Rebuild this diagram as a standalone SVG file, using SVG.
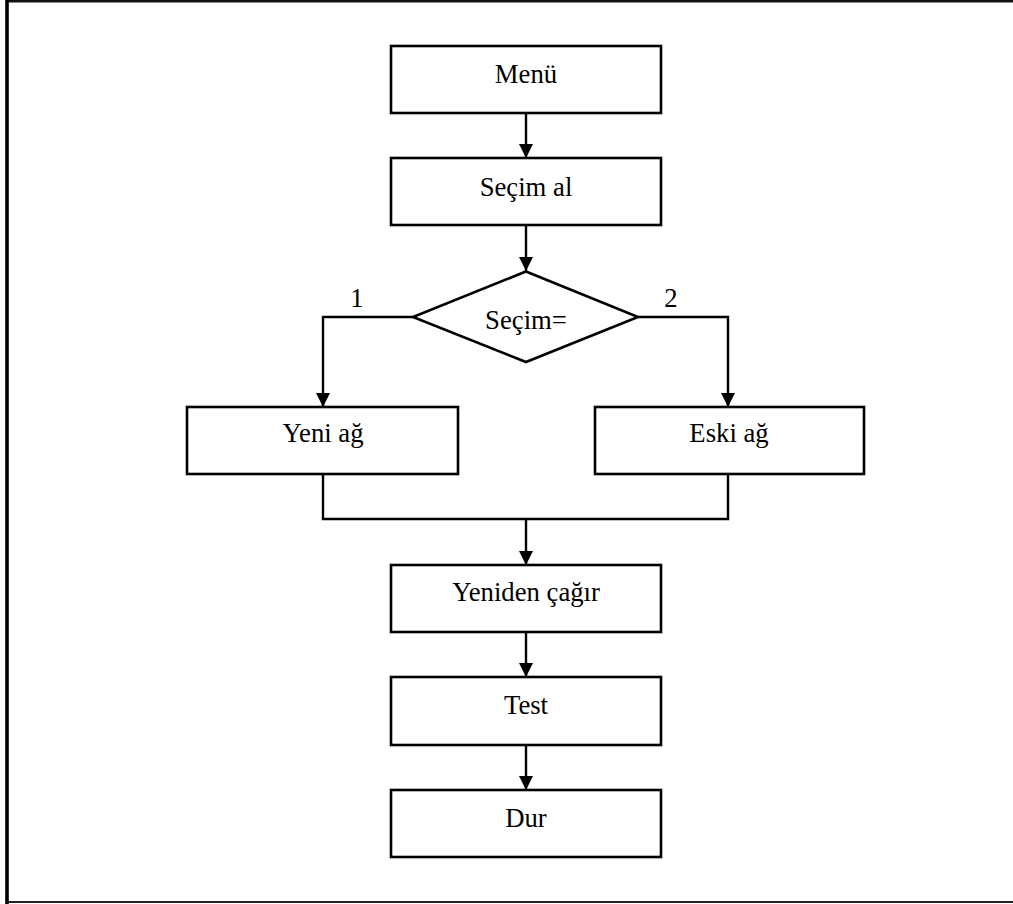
<svg xmlns="http://www.w3.org/2000/svg" width="1013" height="904" viewBox="0 0 1013 904">
  <style>
    .box { fill: #ffffff; stroke: #000000; stroke-width: 2.6; }
    .lbl { font-family: "Liberation Serif", "Times New Roman", serif; font-size: 26.7px; fill: #000000; text-anchor: middle; }
    .wire { fill: none; stroke: #000000; stroke-width: 2.4; }
  </style>
  <defs>
    <marker id="arrow" viewBox="0 0 14 14" refX="14" refY="7" markerWidth="14" markerHeight="14" markerUnits="userSpaceOnUse" orient="auto">
      <path d="M0,0 L14,7 L0,14 Z" fill="#000000"/>
    </marker>
  </defs>
  <rect width="1013" height="904" fill="#ffffff"/>

  <!-- page frame (open on the right) -->
  <g id="frame">
    <path d="M1013,1.2 H7" fill="none" stroke="#111111" stroke-width="2.4"/>
    <path d="M7,0 V904" fill="none" stroke="#000000" stroke-width="3.6"/>
    <path d="M7,902 H1013" fill="none" stroke="#222222" stroke-width="2.2"/>
  </g>

  <!-- connectors -->
  <g id="connectors">
    <path class="wire" d="M526,113 V158" marker-end="url(#arrow)"/>
    <path class="wire" d="M526,225 V271" marker-end="url(#arrow)"/>
    <path class="wire" d="M413,317 H323 V407" marker-end="url(#arrow)"/>
    <path class="wire" d="M638,317 H728 V407" marker-end="url(#arrow)"/>
    <path class="wire" d="M323,474 V519 H728 V474"/>
    <path class="wire" d="M526,519 V565" marker-end="url(#arrow)"/>
    <path class="wire" d="M526,632 V677" marker-end="url(#arrow)"/>
    <path class="wire" d="M526,745 V790" marker-end="url(#arrow)"/>
    <text class="lbl" x="357" y="307">1</text>
    <text class="lbl" x="671" y="307">2</text>
  </g>

  <g id="menu">
    <rect class="box" x="391" y="46" width="270" height="67"/>
    <text class="lbl" x="526" y="82.5">Menü</text>
  </g>

  <g id="secim-al">
    <rect class="box" x="391" y="158" width="270" height="67"/>
    <text class="lbl" x="526" y="195.5">Seçim al</text>
  </g>

  <g id="secim-karar">
    <polygon class="box" points="526,271.5 638,317 526,362 413,317"/>
    <text class="lbl" x="526" y="328.5">Seçim=</text>
  </g>

  <g id="yeni-ag">
    <rect class="box" x="187" y="407" width="271" height="67"/>
    <text class="lbl" x="323" y="442">Yeni ağ</text>
  </g>

  <g id="eski-ag">
    <rect class="box" x="595" y="407" width="269" height="67"/>
    <text class="lbl" x="729" y="442">Eski ağ</text>
  </g>

  <g id="yeniden-cagir">
    <rect class="box" x="391" y="565" width="270" height="67"/>
    <text class="lbl" x="526" y="601">Yeniden çağır</text>
  </g>

  <g id="test">
    <rect class="box" x="391" y="677" width="270" height="68"/>
    <text class="lbl" x="526" y="714">Test</text>
  </g>

  <g id="dur">
    <rect class="box" x="391" y="790" width="270" height="67"/>
    <text class="lbl" x="526" y="826.5">Dur</text>
  </g>
</svg>
